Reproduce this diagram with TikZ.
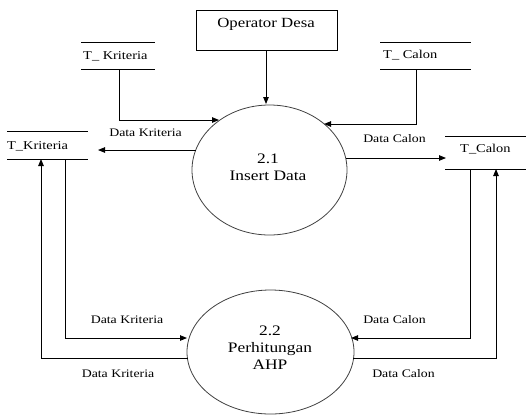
\documentclass[tikz,border=0pt]{standalone}
\usepackage{fontspec}
\setmainfont{Liberation Serif}
\newfontfamily\widefont[FakeStretch=1.2]{Liberation Serif}
\usetikzlibrary{arrows.meta,shapes.geometric}
\begin{document}
\begin{tikzpicture}[x=1pt,y=-1pt,
  flow/.style={line width=0.9pt,-{Triangle[length=7pt,width=5.5pt]}},
  plain/.style={line width=0.9pt},
  storeline/.style={line width=0.9pt},
  proc/.style={ellipse,draw=black!75,line width=0.8pt,inner sep=0pt},
  lbl/.style={font=\widefont\fontsize{11.5}{13}\selectfont,inner sep=0pt},
  sname/.style={font=\widefont\fontsize{12}{14}\selectfont,inner sep=0pt,anchor=west},
  ptext/.style={font=\widefont\fontsize{14.5}{17}\selectfont,align=center,inner sep=0pt}]
\useasboundingbox (0,0) rectangle (526,416);

% external entity
\node[draw,line width=0.9pt,minimum width=141pt,minimum height=40pt,inner sep=0pt] (op) at (266.5,30) {};
\node[font=\widefont\fontsize{14}{16}\selectfont,inner sep=0pt] (optext) at (266,24) {Operator Desa};

% processes
\node[proc,minimum width=155pt,minimum height=130pt] (p1) at (269.5,170) {};
\node[ptext] (p1t) at (268,167) {2.1\\Insert Data};
\node[proc,minimum width=167pt,minimum height=124pt] (p2) at (270.5,352) {};
\node[ptext] (p2t) at (270,348) {2.2\\Perhitungan\\AHP};

% data stores
\draw[storeline] (81,42) -- (155,42) (81,69) -- (155,69);
\node[sname] (sk1) at (83,56) {T\_ Kriteria};
\draw[storeline] (380,42) -- (471,42) (380,69) -- (471,69);
\node[sname] (sc1) at (383,55) {T\_ Calon};
\draw[storeline] (7,131) -- (88,131) (7,159) -- (88,159);
\node[sname] (sk2) at (7,146) {T\_Kriteria};
\draw[storeline] (445,136) -- (526,136) (445,169) -- (526,169);
\node[sname] (sc2) at (460,149) {T\_Calon};

% connector end points
\coordinate (k1b) at (119,69);
\coordinate (p1a) at (219,120);
\coordinate (c1b) at (416,69);
\coordinate (p1b) at (324,124);
\coordinate (opb) at (266,50);
\coordinate (p1c) at (266,104);
\coordinate (p1l) at (196,150);
\coordinate (k2r) at (98,150);
\coordinate (p1r) at (346,158);
\coordinate (c2l) at (446,158);
\coordinate (k2b1) at (65,159);
\coordinate (p2l1) at (187,338);
\coordinate (p2l2) at (188,358);
\coordinate (k2b2) at (41,159);
\coordinate (c2b1) at (470,169);
\coordinate (p2r1) at (351,338);
\coordinate (p2r2) at (353,358);
\coordinate (c2b2) at (496,169);

\draw[flow] (k1b) |- (p1a);
\draw[flow] (c1b) |- (p1b);
\draw[flow] (opb) -- (p1c);
\draw[flow] (p1l) -- (k2r);
\draw[flow] (p1r) -- (c2l);
\draw[flow] (k2b1) |- (p2l1);
\draw[flow] (p2l2) -| (k2b2);
\draw[flow] (c2b1) |- (p2r1);
\draw[flow] (p2r2) -| (c2b2);

% labels
\node[lbl] (l1) at (145.5,133) {Data Kriteria};
\node[lbl] (l2) at (394.5,139) {Data Calon};
\node[lbl] (l3) at (127,320) {Data Kriteria};
\node[lbl] (l4) at (118,374) {Data Kriteria};
\node[lbl] (l5) at (394.5,320) {Data Calon};
\node[lbl] (l6) at (403.5,374) {Data Calon};
\end{tikzpicture}
\end{document}
